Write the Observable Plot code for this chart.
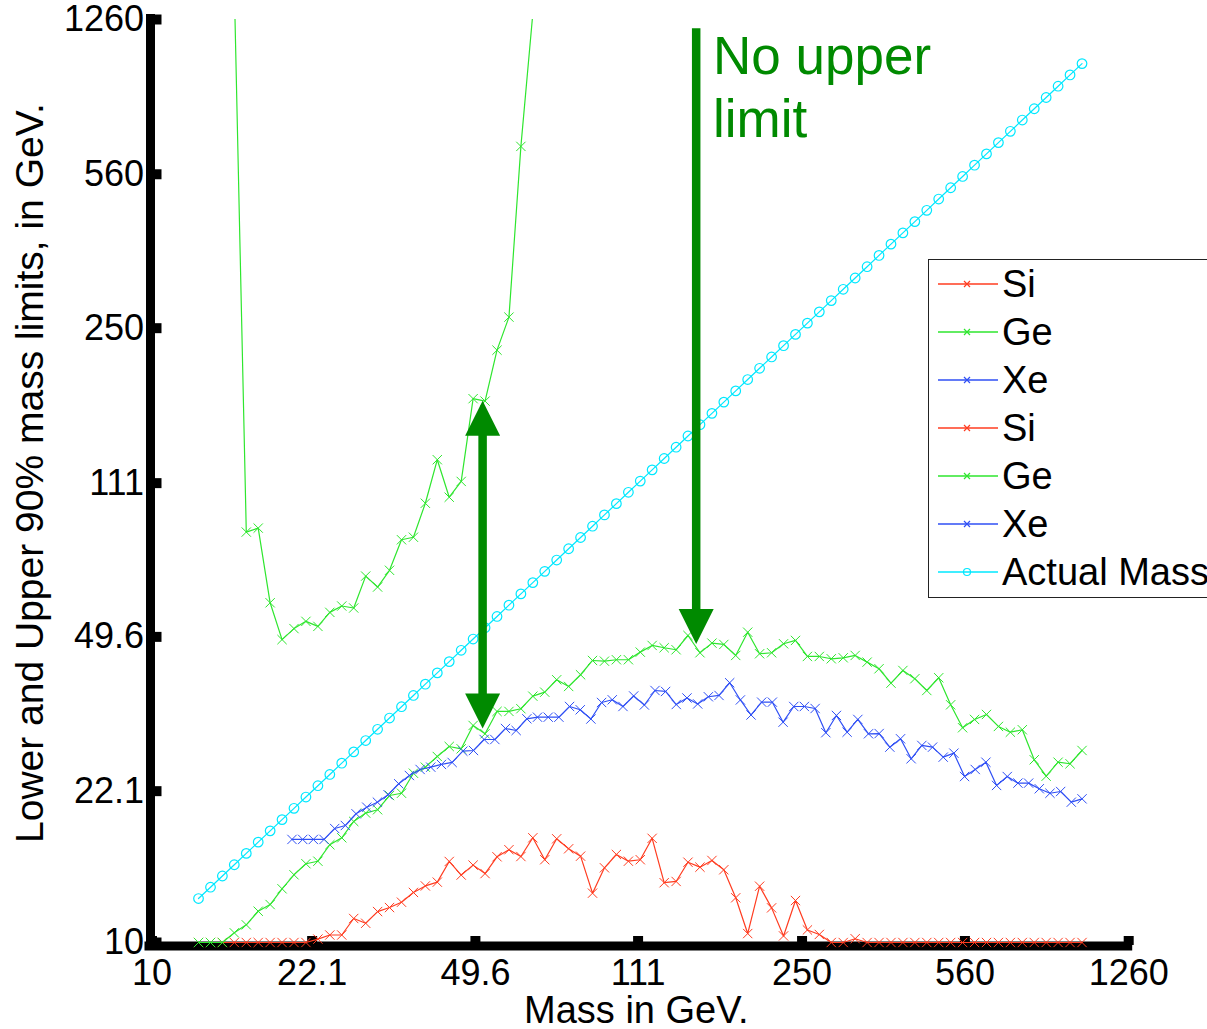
<!DOCTYPE html>
<html><head><meta charset="utf-8">
<script src="https://cdn.jsdelivr.net/npm/d3@7"></script>
<script src="https://cdn.jsdelivr.net/npm/@observablehq/plot@0.6"></script>
<style>
html,body{margin:0;padding:0;background:#fff;overflow:hidden;}
#wrap{position:relative;width:1207px;height:1029px;font-family:"Liberation Sans",Arial,Helvetica,sans-serif;}
#legend{position:absolute;left:928px;top:259px;width:330px;height:337px;border:1px solid #222;background:#fff;}
.row{display:flex;align-items:center;height:48px;}
.row svg{flex:none;}
.row span{font-size:38px;line-height:48px;color:#000;white-space:nowrap;}
</style></head><body><div id="wrap"></div>
<script>
// Mass grid (GeV) used for Si, Ge and the actual mass
const massGrid = [12.59, 13.36, 14.17, 15.03, 15.95, 16.92, 17.95, 19.04, 20.20, 21.43,
  22.74, 24.12, 25.59, 27.15, 28.81, 30.56, 32.42, 34.40, 36.49, 38.71,
  41.07, 43.57, 46.23, 49.04, 52.03, 55.20, 58.56, 62.13, 65.91, 69.92,
  74.18, 78.70, 83.49, 88.58, 93.97, 99.69, 105.8, 112.2, 119.0, 126.3,
  134.0, 142.1, 150.8, 160.0, 169.7, 180.0, 191.0, 202.6, 215.0, 228.1,
  242.0, 256.7, 272.3, 288.9, 306.5, 325.2, 345.0, 366.0, 388.3, 411.9,
  437.0, 463.6, 491.8, 521.8, 553.6, 587.3, 623.1, 661.0, 701.3, 744.0,
  789.3, 837.3, 888.3, 942.4, 1000];
// Mass grid (GeV) used for Xe
const massGridXe = [20.00, 21.09, 22.23, 23.44, 24.71, 26.05, 27.47, 28.96, 30.53, 32.19,
  33.93, 35.77, 37.72, 39.76, 41.92, 44.20, 46.60, 49.13, 51.79, 54.61,
  57.57, 60.69, 63.99, 67.46, 71.13, 74.99, 79.06, 83.35, 87.87, 92.64,
  97.67, 103.0, 108.6, 114.5, 120.7, 127.2, 134.1, 141.4, 149.1, 157.2,
  165.7, 174.7, 184.2, 194.2, 204.7, 215.8, 227.6, 239.9, 252.9, 266.7,
  281.2, 296.4, 312.5, 329.5, 347.4, 366.2, 386.1, 407.1, 429.1, 452.4,
  477.0, 502.9, 530.2, 559.0, 589.3, 621.3, 655.0, 690.6, 728.1, 767.6,
  809.3, 853.2, 899.5, 948.3, 1000];
// Lower 90% limits
const siLower = [10, 10, 10, 10, 10, 10, 10, 10, 10, 10,
  10.18, 10.40, 10.40, 11.34, 11.06, 11.76, 12.01, 12.35, 13.00, 13.45,
  13.72, 15.29, 14.24, 15.00, 14.35, 15.67, 16.26, 15.69, 17.31, 15.43,
  17.22, 16.34, 15.72, 12.95, 14.79, 15.86, 15.31, 15.43, 17.26, 13.68,
  13.77, 15.23, 14.84, 15.37, 14.64, 12.64, 10.48, 13.43, 11.99, 10.35,
  12.46, 10.68, 10.43, 10, 10, 10.20, 10, 10, 10, 10,
  10, 10, 10, 10, 10, 10, 10, 10, 10, 10,
  10, 10, 10, 10, 10];
const geLower = [10, 10, 10, 10.52, 10.97, 11.78, 12.20, 13.25, 14.26, 15.11,
  15.31, 16.69, 17.31, 18.86, 19.70, 20.05, 21.60, 21.86, 24.28, 25.06,
  26.50, 27.93, 27.59, 31.18, 29.85, 33.56, 33.56, 34.04, 36.35, 37.12,
  39.62, 38.25, 40.67, 43.83, 43.67, 44.00, 44.00, 45.79, 47.42, 46.85,
  46.36, 49.96, 45.64, 48.00, 47.67, 45.00, 50.83, 45.40, 45.64, 47.84,
  48.68, 44.76, 44.76, 44.22, 44.45, 45.00, 43.45, 41.97, 38.92, 41.59,
  39.83, 37.45, 40.04, 34.75, 30.81, 32.18, 33.03, 31.02, 30.10, 30.49,
  26.05, 23.90, 25.72, 25.51, 27.35];
const xeLower = [17.16, 17.16, 17.16, 17.16, 18.17, 18.46, 19.63, 20.32, 20.86, 21.69,
  22.97, 23.99, 24.76, 25.06, 25.42, 25.69, 27.25, 27.35, 28.97, 28.97,
  30.69, 30.37, 32.29, 32.56, 32.56, 32.56, 34.44, 33.85, 32.25, 35.17,
  35.67, 34.44, 36.39, 34.71, 37.45, 37.26, 34.80, 36.01, 34.90, 36.24,
  36.49, 39.00, 35.64, 32.94, 35.23, 35.23, 31.72, 34.44, 34.44, 34.08,
  30.02, 32.86, 30.10, 32.18, 29.85, 29.89, 27.83, 29.08, 26.19, 28.08,
  27.83, 26.41, 26.97, 23.86, 24.76, 25.72, 22.77, 23.86, 23.05, 23.05,
  22.38, 21.86, 22.06, 20.86, 21.23];
// Upper 90% limit for Ge (null = no upper limit)
const geUpper = [null, null, null, 1500, 85.9, 87.7, 59.3, 48.9, 51.8, 53.8,
  52.4, 56.4, 58.3, 57.7, 68.2, 64.4, 70.3, 82.5, 83.6, 99.9,
  125.5, 103.1, 112.0, 172.8, 170.6, 222.8, 264.9, 648, 1300, 1280,
  null, null, null, null, null, null, null, null, null, null,
  null, null, null, null, null, null, null, null, null, null,
  null, null, null, null, null, null, null, null, null, null,
  null, null, null, null, null, null, null, null, null, null,
  null, null, null, null, null];

const tickValues = [10, 22.1, 49.6, 111, 250, 560, 1260];
const tickLabels = ["10", "22.1", "49.6", "111", "250", "560", "1260"];
const legendLabels = ["Si", "Ge", "Xe", "Si", "Ge", "Xe", "Actual Mass"];
const legendColors = ["#ff3c20", "#2ee62e", "#2f4ff5", "#ff3c20", "#2ee62e", "#2f4ff5", "#00e8ff"];
const legendSymbols = ["times", "times", "times", "times", "times", "times", "circle"];

// Annotations
const arrowMass = [51.4, 148];
const arrowTop = [171, 1200];
const arrowBottom = [30.7, 47.8];
const arrowBothEnds = [true, false];
const noteText = ["No upper\nlimit"];
const noteMass = [160.9];
const noteValue = [894];

const colSi = legendColors[0], colGe = legendColors[1], colXe = legendColors[2], colMass = legendColors[6];
const arrowColor = "#008a00";
const font = '"Liberation Sans", Arial, Helvetica, sans-serif';

const W = 1207, H = 1029, mL = 151.5, mR = 78.8, mT = 19, mB = 87;
const frameW = W - mL - mR, frameH = H - mT - mB;

const si = massGrid.map((m, i) => ({m, v: siLower[i]}));
const ge = massGrid.map((m, i) => ({m, v: geLower[i]}));
const xe = massGridXe.map((m, i) => ({m, v: xeLower[i]}));
const geU = massGrid.map((m, i) => ({m, v: geUpper[i]}));
const actual = massGrid.map(m => ({m, v: m}));
const arrows = arrowMass.map((m, i) => ({m, top: arrowTop[i], bottom: arrowBottom[i], both: arrowBothEnds[i]}));
const doubleArrows = arrows.filter(d => d.both);
const singleArrows = arrows.filter(d => !d.both);
const notes = noteText.map((t, i) => ({t, m: noteMass[i], v: noteValue[i]}));
const ticks = tickValues.map((v, i) => ({v, label: tickLabels[i]}));

const headUp = {draw(ctx) { ctx.moveTo(0, 0); ctx.lineTo(17.5, 35); ctx.lineTo(-17.5, 35); ctx.closePath(); }};
const lineOpts = (stroke) => ({x: "m", y: "v", stroke, strokeWidth: 1.2});
const xOpts = (stroke) => ({x: "m", y: "v", symbol: "times", r: 4.3, stroke, fill: "none", strokeWidth: 1});

const chart = Plot.plot({
  width: W, height: H,
  marginLeft: mL, marginRight: mR, marginTop: mT, marginBottom: mB,
  x: {type: "log", domain: [10, 1260], axis: null},
  y: {type: "log", domain: [10, 1260], axis: null},
  style: {fontFamily: font, fontSize: "36px", background: "white", color: "black"},
  marks: [
    // axis lines and thick inward ticks
    Plot.ruleX([10], {dx: -1.5, insetTop: -5, insetBottom: -8, stroke: "black", strokeWidth: 9}),
    Plot.ruleY([10], {dy: 3.5, insetLeft: -7, insetRight: -4, stroke: "black", strokeWidth: 9}),
    Plot.ruleX(ticks, {x: "v", insetTop: frameH - 6, insetBottom: -3, stroke: "black", strokeWidth: 10}),
    Plot.ruleY(ticks, {y: "v", insetLeft: -3, insetRight: frameW - 10, stroke: "black", strokeWidth: 10}),
    // lower limits
    Plot.line(si, lineOpts(colSi)),
    Plot.dot(si, xOpts(colSi)),
    Plot.line(ge, lineOpts(colGe)),
    Plot.dot(ge, xOpts(colGe)),
    Plot.line(xe, lineOpts(colXe)),
    Plot.dot(xe, xOpts(colXe)),
    // upper limit for Ge
    Plot.line(geU, {...lineOpts(colGe), clip: true}),
    Plot.dot(geU.filter(d => d.v != null && d.v <= 1260), xOpts(colGe)),
    // actual mass
    Plot.line(actual, lineOpts(colMass)),
    Plot.dot(actual, {x: "m", y: "v", symbol: "circle", r: 4.8, stroke: colMass, fill: "none", strokeWidth: 1.2}),
    // annotation arrows (y1 = upper end on screen, y2 = lower end)
    Plot.ruleX(doubleArrows, {x: "m", y1: "top", y2: "bottom", insetTop: 30, insetBottom: 30, stroke: arrowColor, strokeWidth: 8.5}),
    Plot.ruleX(singleArrows, {x: "m", y1: "top", y2: "bottom", insetTop: 0, insetBottom: 30, stroke: arrowColor, strokeWidth: 8.5}),
    Plot.dot(doubleArrows, {x: "m", y: "top", symbol: headUp, fill: arrowColor, stroke: "none"}),
    Plot.dot(arrows, {x: "m", y: "bottom", symbol: headUp, rotate: 180, fill: arrowColor, stroke: "none"}),
    Plot.text(notes, {x: "m", y: "v", text: "t", textAnchor: "start", lineAnchor: "middle", lineHeight: 1.19, fontSize: 53, fill: arrowColor}),
    // tick labels
    Plot.text(ticks, {x: "v", text: "label", frameAnchor: "bottom", dy: 17, lineAnchor: "top", textAnchor: "middle", fontSize: 36, fill: "black"}),
    Plot.text(ticks, {y: "v", text: "label", frameAnchor: "left", dx: -8, lineAnchor: "middle", textAnchor: "end", fontSize: 36, fill: "black"}),
    // axis titles
    Plot.text(["Mass in GeV."], {frameAnchor: "bottom", dy: 68, dx: -4, lineAnchor: "middle", textAnchor: "middle", fontSize: 38, fill: "black"}),
    Plot.text(["Lower and Upper 90% mass limits, in GeV."], {frameAnchor: "left", dx: -121.5, dy: -8, rotate: -90, lineAnchor: "middle", textAnchor: "middle", fontSize: 39, fill: "black"})
  ]
});

const wrap = document.getElementById("wrap");
wrap.appendChild(chart);

// Legend
const legend = document.createElement("div");
legend.id = "legend";
legendLabels.forEach((label, i) => {
  const row = document.createElement("div");
  row.className = "row";
  const c = legendColors[i];
  const mk = legendSymbols[i] === "circle"
    ? `<circle cx="38" cy="24" r="3.5" fill="none" stroke="${c}" stroke-width="1.2"/>`
    : `<path d="M35,21L41,27M35,27L41,21" stroke="${c}" stroke-width="1.2" fill="none"/>`;
  row.innerHTML = `<svg width="73" height="48"><line x1="9" x2="69" y1="24" y2="24" stroke="${c}" stroke-width="1.5"/>${mk}</svg><span>${label}</span>`;
  legend.appendChild(row);
});
wrap.appendChild(legend);
</script></body></html>
